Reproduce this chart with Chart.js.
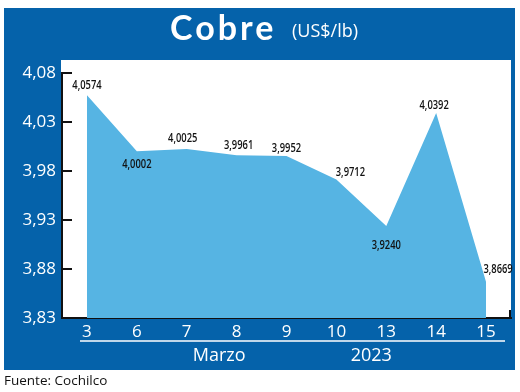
<!DOCTYPE html>
<html>
<head>
<meta charset="utf-8">
<script src="https://cdn.jsdelivr.net/npm/chart.js@4"></script>
<style>
  html, body { margin: 0; padding: 0; background: #fff; }
  #wrap { width: 520px; height: 392px; position: relative; }
</style>
</head>
<body>
<div id="wrap"><canvas id="chartCobre"></canvas></div>
<script>
// --- Données ---
const days = ['3', '6', '7', '8', '9', '10', '13', '14', '15'];
const prices = [4.0574, 4.0002, 4.0025, 3.9961, 3.9952, 3.9712, 3.9240, 4.0392, 3.8669];
const yTickValues = [3.83, 3.88, 3.93, 3.98, 4.03, 4.08];
const monthLabel = 'Marzo';
const yearLabel = '2023';
const sourceLabel = 'Fuente: Cochilco';

// décalages des étiquettes de valeur (px)
const labelDx = [0, 0, -4, 2, 0, 14, 0, -2, 12];
const labelDy = [-10, 13, -10, -10, -8, -7, 20, -7, -12];

const BLUE = '#0562aa';
const FILL = '#56b4e3';
const fmt = (v, d) => v.toFixed(d).replace('.', ',');

/* --- Fond bleu + zone blanche --- */
const panelPlugin = {
    id: 'panel',
    beforeDraw(chart) {
        const { ctx, chartArea: a } = chart;
        ctx.save();
        ctx.fillStyle = BLUE;
        ctx.fillRect(4, 8, 511, 362);
        ctx.fillStyle = '#fff';
        ctx.fillRect(a.left - 1, a.top - 13, a.right - a.left + 1, a.bottom - a.top + 13);
        ctx.restore();
    },
    afterDraw(chart) {
        const { ctx, chartArea: a, scales } = chart;
        ctx.save();
        // titre
        ctx.fillStyle = '#fff';
        ctx.textBaseline = 'alphabetic';
        ctx.textAlign = 'left';
        ctx.font = 'bold 34px Lato';
        ctx.letterSpacing = '3px';
        ctx.fillText('Cobre', 170, 40);
        ctx.letterSpacing = '0px';
        ctx.font = '18px "Open Sans"';
        ctx.fillText('(US$/lb)', 292, 37);

        // graduations vers l'intérieur (axe Y)
        const y = scales.y;
        ctx.strokeStyle = '#111';
        ctx.lineWidth = 2;
        y.ticks.forEach((t, i) => {
            const py = y.getPixelForTick(i);
            ctx.beginPath();
            ctx.moveTo(a.left, py);
            ctx.lineTo(a.left + 10, py);
            ctx.stroke();
        });
        // petit trait en bout d'axe X
        ctx.beginPath();
        ctx.moveTo(a.right - 1, a.bottom);
        ctx.lineTo(a.right - 1, a.bottom - 8);
        ctx.stroke();

        // ligne sous les jours + mois / année
        ctx.strokeStyle = '#fff';
        ctx.lineWidth = 1.5;
        ctx.beginPath();
        ctx.moveTo(a.left + 18, a.bottom + 23);
        ctx.lineTo(a.right - 6, a.bottom + 23);
        ctx.stroke();
        const x = scales.x;
        ctx.fillStyle = '#fff';
        ctx.textAlign = 'center';
        ctx.textBaseline = 'middle';
        ctx.font = '18px "Open Sans"';
        ctx.fillText(monthLabel, x.getPixelForValue(2.65), a.bottom + 38);
        ctx.fillText(yearLabel, x.getPixelForValue(5.7), a.bottom + 38);

        // source
        ctx.fillStyle = '#111';
        ctx.textAlign = 'left';
        ctx.font = '13.5px "Open Sans"';
        ctx.fillText(sourceLabel, 4, 381);
        ctx.restore();
    }
};

/* --- Étiquettes de valeur --- */
const valueLabels = {
    id: 'valueLabels',
    afterDatasetsDraw(chart) {
        const { ctx } = chart;
        const meta = chart.getDatasetMeta(0);
        ctx.save();
        ctx.fillStyle = '#111';
        ctx.font = '600 12px "Open Sans"';
        ctx.textAlign = 'center';
        ctx.textBaseline = 'middle';
        meta.data.forEach((pt, i) => {
            const tx = pt.x + labelDx[i];
            const ty = pt.y + labelDy[i];
            ctx.save();
            ctx.translate(tx, ty);
            ctx.scale(0.78, 1);
            ctx.fillText(fmt(prices[i], 4), 0, 0);
            ctx.restore();
        });
        ctx.restore();
    }
};

const ctx = document.getElementById('chartCobre').getContext('2d');
new Chart(ctx, {
    type: 'line',
    data: {
        datasets: [{
            label: 'Cobre',
            data: prices.map((v, i) => ({ x: i, y: v })),
            backgroundColor: FILL,
            borderWidth: 0,
            fill: 'start',
            tension: 0,
            pointRadius: 0
        }]
    },
    options: {
        animation: false,
        responsive: true,
        maintainAspectRatio: false,
        layout: { padding: { top: 73, right: 9, left: 0, bottom: 0 } },
        plugins: { legend: { display: false }, tooltip: { enabled: false } },
        scales: {
            x: {
                type: 'linear',
                min: -0.5,
                max: 8.5,
                afterBuildTicks: (s) => { s.ticks = days.map((d, i) => ({ value: i })); },
                afterFit: (s) => { s.height = 74; },
                grid: { display: false, drawTicks: false },
                border: { color: '#111', width: 2 },
                ticks: {
                    color: '#fff',
                    padding: 4,
                    font: { family: 'Open Sans', size: 17 },
                    callback: (v) => days[v],
                    maxRotation: 0
                }
            },
            y: {
                min: 3.83,
                max: 4.08,
                afterBuildTicks: (s) => { s.ticks = yTickValues.map(v => ({ value: v })); },
                afterFit: (s) => { s.width = 62; },
                grid: { display: false, drawTicks: false },
                border: { color: '#111', width: 2 },
                ticks: {
                    color: '#fff',
                    padding: 6,
                    font: { family: 'Open Sans', size: 17 },
                    callback: (v) => fmt(v, 2)
                }
            }
        }
    },
    plugins: [panelPlugin, valueLabels]
});
</script>
</body>
</html>
